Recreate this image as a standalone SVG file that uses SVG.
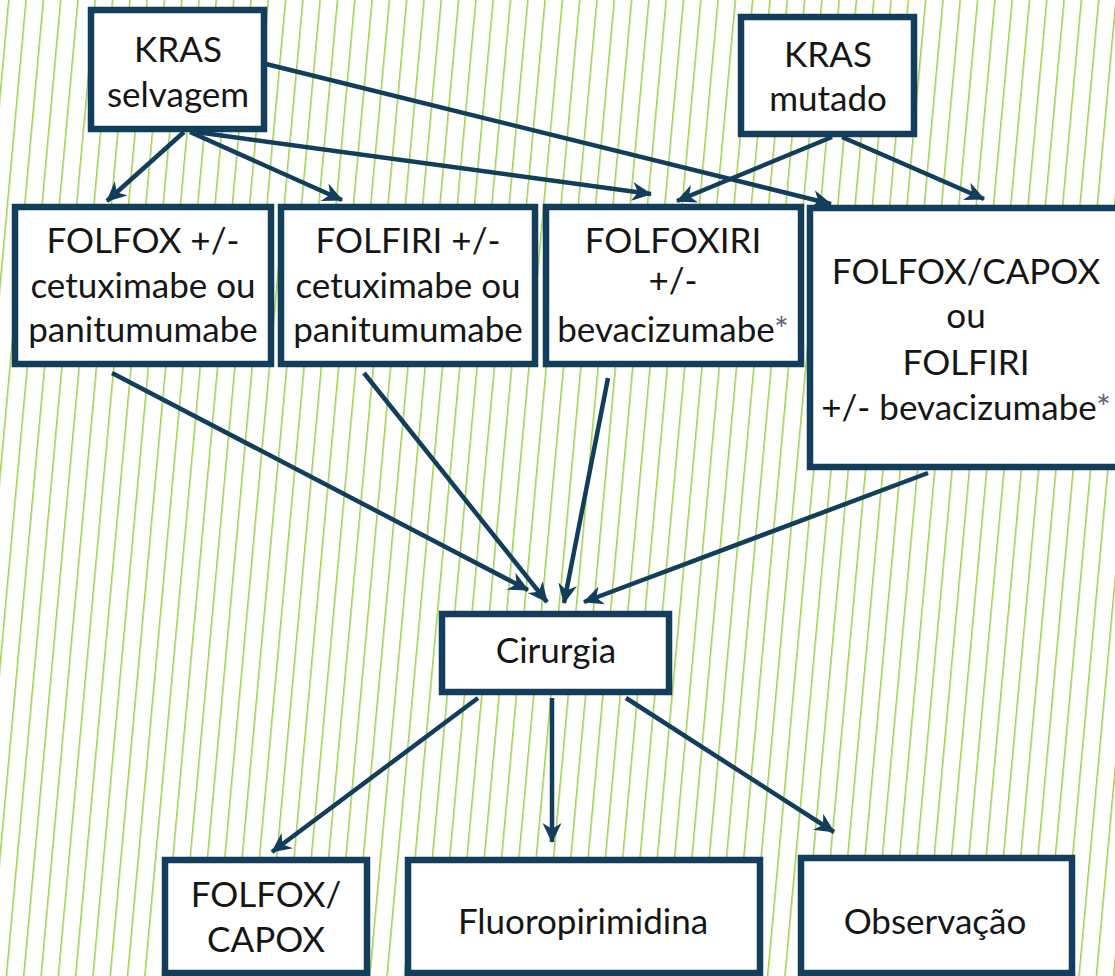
<svg xmlns="http://www.w3.org/2000/svg" width="1115" height="976" viewBox="0 0 1115 976">
  <defs>
    <pattern id="stripes" patternUnits="userSpaceOnUse" width="17.3" height="976" patternTransform="translate(8,0) skewX(-5.2)">
      <rect x="0" y="0" width="1.5" height="976" fill="#9ccf4a"/>
    </pattern>
    <marker id="arr" markerUnits="userSpaceOnUse" markerWidth="22" markerHeight="20" refX="19" refY="9.5" orient="auto" viewBox="0 0 22 19">
      <path d="M0,0 L20,9.5 L0,19 L6,9.5 Z" fill="#123d5b"/>
    </marker>
    <style>
      .box { fill: #ffffff; stroke: #123d5b; stroke-width: 6.5; }
      .t { font-family: Lato, "Liberation Sans", sans-serif; font-size: 35px; fill: #161616; text-anchor: middle; }
      .ast { fill: #6b5f80; }
      .c { stroke: #123d5b; stroke-width: 4.5; fill: none; marker-end: url(#arr); }
    </style>
  </defs>

  <rect x="0" y="0" width="1115" height="976" fill="#ffffff"/>
  <rect x="0" y="0" width="1115" height="976" fill="url(#stripes)"/>

  <g id="connectors">
    <line class="c" x1="184" y1="132" x2="107" y2="201"/>
    <line class="c" x1="190" y1="132" x2="342" y2="200"/>
    <line class="c" x1="196" y1="132" x2="651" y2="194"/>
    <line class="c" x1="266" y1="64" x2="831" y2="204"/>
    <line class="c" x1="832" y1="137" x2="677" y2="201"/>
    <line class="c" x1="842" y1="137" x2="984" y2="199"/>
    <line class="c" x1="112" y1="373" x2="528" y2="590"/>
    <line class="c" x1="364" y1="373" x2="547" y2="602"/>
    <line class="c" x1="608" y1="378" x2="564" y2="603"/>
    <line class="c" x1="928" y1="473" x2="584" y2="602"/>
    <line class="c" x1="478" y1="698" x2="272" y2="852"/>
    <line class="c" x1="552" y1="698" x2="552" y2="842"/>
    <line class="c" x1="626" y1="698" x2="834" y2="832"/>
  </g>

  <g id="kras-selvagem">
    <rect class="box" x="91" y="10" width="173" height="119"/>
    <text class="t" x="178" y="62">KRAS</text>
    <text class="t" x="178" y="107">selvagem</text>
  </g>

  <g id="kras-mutado">
    <rect class="box" x="741" y="17" width="173" height="117"/>
    <text class="t" x="828" y="67">KRAS</text>
    <text class="t" x="828" y="111">mutado</text>
  </g>

  <g id="folfox-cetux">
    <rect class="box" x="15" y="207" width="256" height="157"/>
    <text class="t" x="143" y="253">FOLFOX +/-</text>
    <text class="t" x="143" y="298">cetuximabe ou</text>
    <text class="t" x="143" y="342">panitumumabe</text>
  </g>

  <g id="folfiri-cetux">
    <rect class="box" x="281" y="207" width="254" height="157"/>
    <text class="t" x="408" y="253">FOLFIRI +/-</text>
    <text class="t" x="408" y="298">cetuximabe ou</text>
    <text class="t" x="408" y="342">panitumumabe</text>
  </g>

  <g id="folfoxiri">
    <rect class="box" x="546" y="207" width="255" height="157"/>
    <text class="t" x="673" y="253">FOLFOXIRI</text>
    <text class="t" x="673" y="293">+/-</text>
    <text class="t" x="673" y="342">bevacizumabe<tspan class="ast">*</tspan></text>
  </g>

  <g id="folfox-capox-bev">
    <rect class="box" x="810" y="208" width="312" height="259"/>
    <text class="t" x="966" y="284">FOLFOX/CAPOX</text>
    <text class="t" x="966" y="328">ou</text>
    <text class="t" x="966" y="375">FOLFIRI</text>
    <text class="t" x="966" y="420">+/- bevacizumabe<tspan class="ast">*</tspan></text>
  </g>

  <g id="cirurgia">
    <rect class="box" x="442" y="614" width="227" height="78"/>
    <text class="t" x="556" y="663">Cirurgia</text>
  </g>

  <g id="folfox-capox">
    <rect class="box" x="165" y="860" width="202" height="113"/>
    <text class="t" x="266" y="907">FOLFOX/</text>
    <text class="t" x="266" y="952">CAPOX</text>
  </g>

  <g id="fluoropirimidina">
    <rect class="box" x="408" y="860" width="352" height="113"/>
    <text class="t" x="583" y="934">Fluoropirimidina</text>
  </g>

  <g id="observacao">
    <rect class="box" x="801" y="858" width="271" height="115"/>
    <text class="t" x="935" y="934">Observação</text>
  </g>
</svg>
